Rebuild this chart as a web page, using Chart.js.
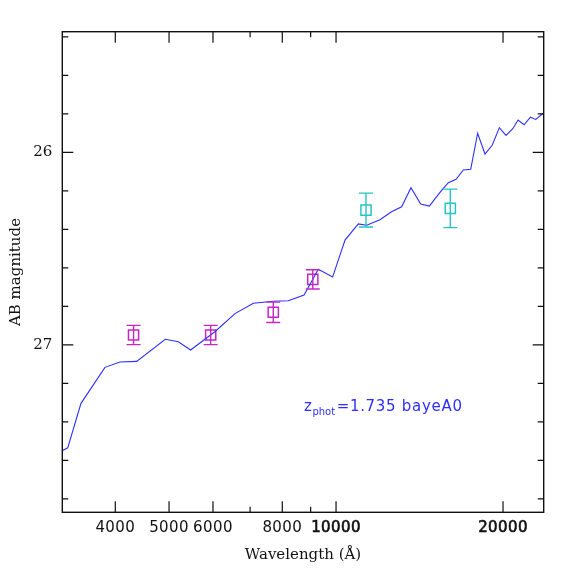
<!DOCTYPE html>
<html><head><meta charset="utf-8">
<script src="https://cdn.jsdelivr.net/npm/chart.js@4/dist/chart.umd.min.js"></script>
<style>html,body{margin:0;padding:0;background:#fff;overflow:hidden}canvas{display:block}</style>
</head><body>
<canvas id="c" width="574" height="574"></canvas>
<script>
// ---- data ----
const modelWavelength = [3210, 3283, 3469, 3832, 4079, 4371, 4922, 5196, 5468, 6047, 6575, 7095, 7706, 8200, 8757, 9290, 9859, 10380, 10970, 11360, 12000, 12590, 13130, 13650, 14210, 14730, 15510, 15940, 16460, 16960, 17490, 18000, 18560, 19130, 19700, 20250, 20810, 21290, 21830, 22410, 22910, 23540, 24000];
const modelMag = [27.550, 27.535, 27.304, 27.117, 27.089, 27.086, 26.971, 26.984, 27.027, 26.932, 26.838, 26.784, 26.774, 26.771, 26.741, 26.608, 26.648, 26.456, 26.372, 26.379, 26.350, 26.309, 26.283, 26.184, 26.269, 26.279, 26.196, 26.158, 26.140, 26.092, 26.088, 25.901, 26.009, 25.962, 25.872, 25.912, 25.879, 25.832, 25.857, 25.818, 25.829, 25.801, 25.790];

const magentaWavelength = [4315, 5943, 7706, 9080];
const magentaMag = [26.949, 26.949, 26.831, 26.660];
const magentaErr = [0.050, 0.050, 0.053, 0.050];

const cyanWavelength = [11325, 16070];
const cyanMag = [26.300, 26.291];
const cyanErr = [0.088, 0.100];

const xTickValues = [4000, 5000, 6000, 7000, 8000, 9000, 10000, 20000];
const xTickLabels = ['4000', '5000', '6000', '', '8000', '', '10000', '20000'];
const yMajorTicks = [26, 27];
const yTickLabels = ['26', '27'];
const yMinorTicks = [25.4, 25.6, 25.8, 26.2, 26.4, 26.6, 26.8, 27.2, 27.4, 27.6, 27.8];

const xRange = [3210, 23680];
const yRange = [25.3735, 27.87];

const fitLabelMain = 'z';
const fitLabelSub = 'phot';
const fitLabelRest = '=1.735 bayeA0';
const fitLabelAt = [8756, 27.344];

const xTitle = 'Wavelength (Å)';
const yTitle = 'AB magnitude';

// ---- styles ----
const BLUE = '#2e2eff';
const MAGENTA = '#c428c4';
const CYAN = '#28c4c4';
const INK = '#111';

const toXY = (xs, ys) => xs.map((x, i) => ({x: x, y: ys[i]}));

const framePlugin = {
  id: 'frame',
  afterDatasetsDraw(chart) {
    const ctx = chart.ctx, a = chart.chartArea;
    const xs = chart.scales.x, ys = chart.scales.y;
    ctx.save();
    // error bars
    const drawErr = (wl, mg, er, col) => {
      ctx.strokeStyle = col; ctx.lineWidth = 1.4;
      wl.forEach((w, i) => {
        const px = xs.getPixelForValue(w);
        const p1 = ys.getPixelForValue(mg[i] - er[i]);
        const p2 = ys.getPixelForValue(mg[i] + er[i]);
        ctx.beginPath();
        ctx.moveTo(px, p1); ctx.lineTo(px, p2);
        ctx.moveTo(px - 7, p1); ctx.lineTo(px + 7, p1);
        ctx.moveTo(px - 7, p2); ctx.lineTo(px + 7, p2);
        ctx.stroke();
      });
    };
    drawErr(magentaWavelength, magentaMag, magentaErr, MAGENTA);
    drawErr(cyanWavelength, cyanMag, cyanErr, CYAN);

    // frame
    ctx.strokeStyle = INK; ctx.lineWidth = 1.4;
    ctx.strokeRect(a.left, a.top, a.right - a.left, a.bottom - a.top);
    // ticks
    ctx.lineWidth = 1.2;
    ctx.beginPath();
    xTickValues.forEach((v, i) => {
      const px = xs.getPixelForValue(v);
      const len = xTickLabels[i] ? 11 : 5.5;
      ctx.moveTo(px, a.bottom); ctx.lineTo(px, a.bottom - len);
      ctx.moveTo(px, a.top); ctx.lineTo(px, a.top + len);
    });
    yMajorTicks.forEach(v => {
      const py = ys.getPixelForValue(v);
      ctx.moveTo(a.left, py); ctx.lineTo(a.left + 11, py);
      ctx.moveTo(a.right, py); ctx.lineTo(a.right - 11, py);
    });
    yMinorTicks.forEach(v => {
      const py = ys.getPixelForValue(v);
      ctx.moveTo(a.left, py); ctx.lineTo(a.left + 6, py);
      ctx.moveTo(a.right, py); ctx.lineTo(a.right - 6, py);
    });
    ctx.stroke();

    // tick labels
    ctx.fillStyle = INK; ctx.strokeStyle = INK;
    ctx.textAlign = 'center'; ctx.textBaseline = 'middle';
    ctx.font = '15px "DejaVu Sans"';
    ctx.letterSpacing = '0.4px';
    xTickValues.forEach((v, i) => {
      if (!xTickLabels[i]) return;
      const px = xs.getPixelForValue(v);
      ctx.fillText(xTickLabels[i], px, a.bottom + 16);
      if (v >= 10000) { ctx.lineWidth = 0.6; ctx.strokeText(xTickLabels[i], px, a.bottom + 16); }
    });
    ctx.letterSpacing = '0px';
    ctx.font = '15px "DejaVu Serif"';
    ctx.textAlign = 'right';
    yMajorTicks.forEach((v, i) => {
      ctx.fillText(yTickLabels[i], a.left - 10, ys.getPixelForValue(v));
    });

    // axis titles
    ctx.textAlign = 'center';
    ctx.font = '15px "DejaVu Serif"';
    ctx.fillText(xTitle, (a.left + a.right) / 2, a.bottom + 43);
    ctx.save();
    ctx.translate(16, (a.top + a.bottom) / 2);
    ctx.rotate(-Math.PI / 2);
    ctx.fillText(yTitle, 0, 0);
    ctx.restore();

    // fit label
    ctx.fillStyle = BLUE;
    ctx.textAlign = 'left'; ctx.textBaseline = 'alphabetic';
    let lx = xs.getPixelForValue(fitLabelAt[0]);
    const ly = ys.getPixelForValue(fitLabelAt[1]);
    ctx.font = '15px "DejaVu Sans"';
    ctx.fillText(fitLabelMain, lx, ly);
    lx += ctx.measureText(fitLabelMain).width + 0.5;
    ctx.font = '10px "DejaVu Sans"';
    ctx.fillText(fitLabelSub, lx, ly + 3.5);
    lx += ctx.measureText(fitLabelSub).width + 1.5;
    ctx.font = '15px "DejaVu Sans"';
    ctx.letterSpacing = '0.7px';
    ctx.fillText(fitLabelRest, lx, ly);
    ctx.letterSpacing = '0px';
    ctx.restore();
  }
};

new Chart(document.getElementById('c'), {
  type: 'scatter',
  data: {
    datasets: [
      {
        data: toXY(modelWavelength, modelMag),
        showLine: true, borderColor: BLUE, borderWidth: 1.1,
        pointRadius: 0, tension: 0, fill: false
      },
      {
        data: toXY(magentaWavelength, magentaMag),
        pointStyle: 'rect', pointRadius: 7.2, borderColor: MAGENTA,
        backgroundColor: 'rgba(0,0,0,0)', borderWidth: 1.5
      },
      {
        data: toXY(cyanWavelength, cyanMag),
        pointStyle: 'rect', pointRadius: 7.2, borderColor: CYAN,
        backgroundColor: 'rgba(0,0,0,0)', borderWidth: 1.5
      }
    ]
  },
  options: {
    responsive: false,
    animation: false,
    devicePixelRatio: 1,
    layout: {padding: {top: 31.7, right: 30.3, left: 0, bottom: 0}},
    plugins: {legend: {display: false}, tooltip: {enabled: false}},
    scales: {
      x: {
        type: 'logarithmic', min: xRange[0], max: xRange[1],
        grid: {display: false}, border: {display: false},
        ticks: {display: false},
        afterFit(s) { s.height = 61.7; }
      },
      y: {
        type: 'linear', reverse: true, min: yRange[0], max: yRange[1],
        grid: {display: false}, border: {display: false},
        ticks: {display: false},
        afterFit(s) { s.width = 62.3; }
      }
    }
  },
  plugins: [framePlugin]
});
</script>
</body></html>
